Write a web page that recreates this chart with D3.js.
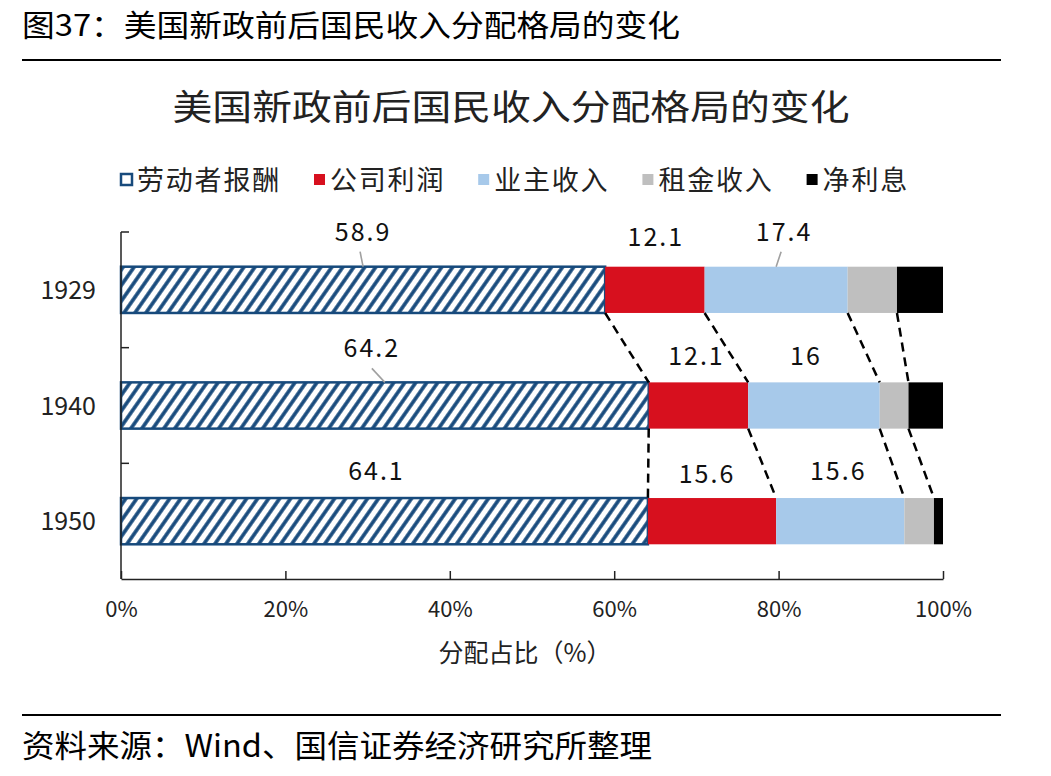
<!DOCTYPE html>
<html>
<head>
<meta charset="utf-8">
<script src="https://cdn.jsdelivr.net/npm/d3@7"></script>
<style>
body { margin: 0; background: #fff; }
text { font-family: "Noto Sans CJK SC", "Noto Sans", sans-serif; }
</style>
</head>
<body>
<div id="chart"></div>
<script>
// data
var years = ["1929", "1940", "1950"];
var series = ["劳动者报酬", "公司利润", "业主收入", "租金收入", "净利息"];
var labor = [58.9, 64.2, 64.1];
var profit = [12.1, 12.1, 15.6];
var owner = [17.4, 16, 15.6];
var rent = [6.0, 3.5, 3.6];
var interest = [5.6, 4.2, 1.1];
var xTicks = [0, 20, 40, 60, 80, 100];

// only the first three series carry labels; nudges per year (dx, dy from bar top)
var labelNudge = [
	[[0, -35], [1, -30], [8, -35]],
	[[-13, -34], [-2, -26], [-8, -26]],
	[[-8, -27], [-5, -24], [-2, -27]]
];
var hasLeader = [
	[true, false, true],
	[true, false, false],
	[false, false, false]
];

var colors = ["url(#hatch)", "#d7101e", "#a7c9ea", "#bfbfbf", "#000000"];
var hatchBlue = "#174a7c";

var W = 1051, H = 776;
var svg = d3.select("#chart").append("svg")
	.attr("width", W)
	.attr("height", H);

var defs = svg.append("defs");
var pat = defs.append("pattern")
	.attr("id", "hatch")
	.attr("patternUnits", "userSpaceOnUse")
	.attr("width", 9)
	.attr("height", 9)
	.attr("patternTransform", "rotate(35)");
pat.append("rect").attr("width", 9).attr("height", 9).attr("fill", "#fff");
pat.append("line")
	.attr("x1", 2).attr("x2", 2)
	.attr("y1", 0).attr("y2", 9)
	.attr("stroke", hatchBlue)
	.attr("stroke-width", 3.6);

// header + footer
svg.append("text")
	.attr("x", 22).attr("y", 36)
	.attr("font-size", 30)
	.attr("textLength", 658)
	.attr("lengthAdjust", "spacingAndGlyphs")
	.attr("fill", "#000")
	.text("图37：美国新政前后国民收入分配格局的变化");
svg.append("line")
	.attr("x1", 22).attr("x2", 1001)
	.attr("y1", 60).attr("y2", 60)
	.attr("stroke", "#000").attr("stroke-width", 2);
svg.append("line")
	.attr("x1", 22).attr("x2", 1001)
	.attr("y1", 715).attr("y2", 715)
	.attr("stroke", "#000").attr("stroke-width", 2);
svg.append("text")
	.attr("x", 22).attr("y", 757)
	.attr("font-size", 31)
	.attr("textLength", 630)
	.attr("lengthAdjust", "spacingAndGlyphs")
	.attr("fill", "#000")
	.text("资料来源：Wind、国信证券经济研究所整理");

// chart title
svg.append("text")
	.attr("x", 511).attr("y", 120)
	.attr("text-anchor", "middle")
	.attr("font-size", 35)
	.attr("font-weight", 400)
	.attr("textLength", 677)
	.attr("lengthAdjust", "spacingAndGlyphs")
	.attr("fill", "#222")
	.text("美国新政前后国民收入分配格局的变化");

// legend
var lg = svg.append("g").attr("transform", "translate(0,180)");
var lx = 121;
series.forEach(function(name, i)
{
	lg.append("rect")
		.attr("x", lx).attr("y", -6)
		.attr("width", 11).attr("height", 11)
		.attr("fill", i == 0 ? "#fff" : colors[i])
		.attr("stroke", i == 0 ? hatchBlue : "none")
		.attr("stroke-width", 2.5);
	var t = lg.append("text")
		.attr("x", lx + 16).attr("y", 10)
		.attr("font-size", 27)
		.attr("letter-spacing", 1.8)
		.attr("fill", "#222")
		.text(name);
	lx = lx + 16 + t.node().getComputedTextLength() + 33;
});

// scales
var x = d3.scaleLinear().domain([0, 100]).range([121, 943]);
var y = d3.scaleBand().domain(years).range([232, 579])
	.paddingInner(0.6).paddingOuter(0.3);
var bw = y.bandwidth();

var rows = years.map(function(yr, i)
{
	var r = {year: yr};
	r[series[0]] = labor[i];
	r[series[1]] = profit[i];
	r[series[2]] = owner[i];
	r[series[3]] = rent[i];
	r[series[4]] = interest[i];
	return r;
});
var stacked = d3.stack().keys(series)(rows);

// bars
var gb = svg.append("g");
stacked.forEach(function(layer, k)
{
	gb.selectAll("rect.s" + k)
		.data(layer)
		.enter().append("rect")
		.attr("class", "s" + k)
		.attr("x", function(d) { return x(d[0]); })
		.attr("y", function(d) { return y(d.data.year); })
		.attr("width", function(d) { return x(d[1]) - x(d[0]); })
		.attr("height", bw)
		.attr("fill", colors[k])
		.attr("stroke", k == 0 ? hatchBlue : "none")
		.attr("stroke-width", 2.5);
});

// dashed connectors between bars
var gc = svg.append("g");
for (var i = 0; i < years.length - 1; i++)
{
	for (var k = 0; k < series.length - 1; k++)
	{
		gc.append("line")
			.attr("x1", x(stacked[k][i][1]))
			.attr("y1", y(years[i]) + bw)
			.attr("x2", x(stacked[k][i + 1][1]))
			.attr("y2", y(years[i + 1]))
			.attr("stroke", "#000")
			.attr("stroke-width", 2.5)
			.attr("stroke-dasharray", "9,6");
	}
}

// labels
var gl = svg.append("g");
years.forEach(function(yr, i)
{
	for (var k = 0; k < 3; k++)
	{
		var d = stacked[k][i];
		var v = d[1] - d[0];
		var cx = (x(d[0]) + x(d[1])) / 2;
		var top = y(yr);
		var lxp = cx + labelNudge[i][k][0];
		var lyp = top + labelNudge[i][k][1];
		gl.append("text")
			.attr("x", lxp).attr("y", lyp + 9)
			.attr("text-anchor", "middle")
			.attr("font-size", 25)
			.attr("letter-spacing", 2)
			.attr("fill", "#111")
			.text(Math.abs(v - Math.round(v)) < 1e-6 ? d3.format("d")(v) : d3.format(".1f")(v));
		if (hasLeader[i][k])
		{
			gl.append("line")
				.attr("x1", lxp + (cx > lxp ? 0 : -3))
				.attr("y1", lyp + 20)
				.attr("x2", cx)
				.attr("y2", top)
				.attr("stroke", "#a0a0a0")
				.attr("stroke-width", 1.6);
		}
	}
});

// y axis
var gy = svg.append("g");
gy.append("line")
	.attr("x1", 121).attr("x2", 121)
	.attr("y1", y.range()[0]).attr("y2", y.range()[1])
	.attr("stroke", "#222").attr("stroke-width", 1.5);
gy.selectAll("line.tk")
	.data(d3.range(years.length))
	.enter().append("line")
	.attr("class", "tk")
	.attr("x1", 121).attr("x2", 129)
	.attr("y1", function(d) { return y.range()[0] + d * y.step(); })
	.attr("y2", function(d) { return y.range()[0] + d * y.step(); })
	.attr("stroke", "#222").attr("stroke-width", 1.5);
gy.selectAll("text")
	.data(years)
	.enter().append("text")
	.attr("x", 96)
	.attr("y", function(d) { return y(d) + bw / 2 + 9; })
	.attr("text-anchor", "end")
	.attr("font-size", 25)
	.attr("fill", "#222")
	.text(function(d) { return d; });

// x axis
var gx = svg.append("g")
	.attr("transform", "translate(0," + y.range()[1] + ")")
	.call(d3.axisBottom(x).tickValues(xTicks).tickSize(-8).tickSizeOuter(0)
		.tickPadding(22).tickFormat(function(d) { return d + "%"; }));
gx.select(".domain").attr("stroke", "#222").attr("stroke-width", 1.5);
gx.selectAll(".tick line").attr("stroke", "#222").attr("stroke-width", 1.5);
gx.selectAll(".tick text")
	.attr("font-family", "\"Noto Sans CJK SC\", sans-serif")
	.attr("font-size", 22)
	.attr("fill", "#222");

svg.append("text")
	.attr("x", 525).attr("y", 662)
	.attr("text-anchor", "middle")
	.attr("font-size", 25)
	.attr("fill", "#222")
	.text("分配占比（%）");
</script>
</body>
</html>
